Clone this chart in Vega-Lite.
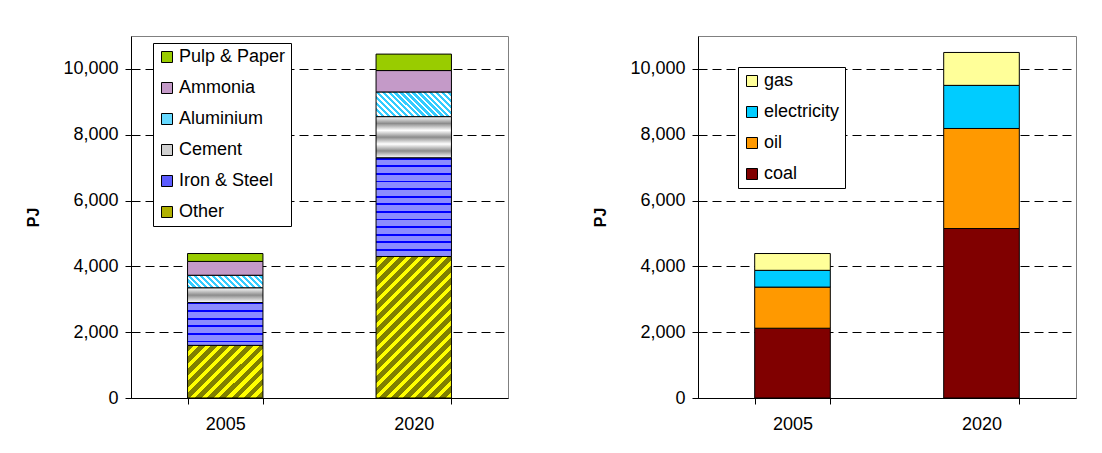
{
  "$schema": "https://vega.github.io/schema/vega-lite/v6.json",
  "padding": {"left": 25, "top": 35, "right": 0, "bottom": 0},
  "spacing": 83,
  "resolve": {"scale": {"fill": "independent"}, "legend": {"fill": "independent"}},
  "config": {
    "font": "Liberation Sans",
    "view": {"stroke": "#808080", "strokeWidth": 1},
    "axis": {
      "labelFont": "Liberation Sans",
      "labelFontSize": 18,
      "labelColor": "black",
      "titleFont": "Liberation Sans",
      "titleColor": "black",
      "domainColor": "black",
      "tickColor": "black"
    },
    "legend": {
      "orient": "none",
      "fillColor": "white",
      "strokeColor": "black",
      "strokeWidth": 1,
      "padding": 5,
      "rowPadding": 13,
      "symbolType": "square",
      "symbolSize": 121,
      "symbolStrokeColor": "black",
      "symbolStrokeWidth": 1,
      "labelFont": "Liberation Sans",
      "labelFontSize": 18,
      "labelColor": "black",
      "labelOffset": 3,
      "labelLimit": 300
    }
  },
  "datasets": {
    "sectors": [
      {"year": "2005", "sector": "Other", "PJ": 1600},
      {"year": "2005", "sector": "Iron & Steel", "PJ": 1300},
      {"year": "2005", "sector": "Cement", "PJ": 450},
      {"year": "2005", "sector": "Aluminium", "PJ": 380},
      {"year": "2005", "sector": "Ammonia", "PJ": 420},
      {"year": "2005", "sector": "Pulp & Paper", "PJ": 240},
      {"year": "2020", "sector": "Other", "PJ": 4300},
      {"year": "2020", "sector": "Iron & Steel", "PJ": 3000},
      {"year": "2020", "sector": "Cement", "PJ": 1250},
      {"year": "2020", "sector": "Aluminium", "PJ": 750},
      {"year": "2020", "sector": "Ammonia", "PJ": 650},
      {"year": "2020", "sector": "Pulp & Paper", "PJ": 500}
    ],
    "fuels": [
      {"year": "2005", "fuel": "coal", "PJ": 2120},
      {"year": "2005", "fuel": "oil", "PJ": 1250},
      {"year": "2005", "fuel": "electricity", "PJ": 510},
      {"year": "2005", "fuel": "gas", "PJ": 510},
      {"year": "2020", "fuel": "coal", "PJ": 5150},
      {"year": "2020", "fuel": "oil", "PJ": 3040},
      {"year": "2020", "fuel": "electricity", "PJ": 1310},
      {"year": "2020", "fuel": "gas", "PJ": 1000}
    ]
  },
  "hconcat": [
    {
      "width": 377,
      "height": 362,
      "data": {"name": "sectors"},
      "transform": [
        {"calculate": "indexof(['Other', 'Iron & Steel', 'Cement', 'Aluminium', 'Ammonia', 'Pulp & Paper'], datum.sector)", "as": "stackOrder"}
      ],
      "mark": {"type": "bar", "stroke": "black", "strokeWidth": 1},
      "encoding": {
        "x": {
          "field": "year", "type": "nominal",
          "scale": {"paddingInner": 0.6, "paddingOuter": 0.3},
          "axis": {"title": null, "labelAngle": 0, "tickBand": "extent", "tickSize": 6, "labelPadding": 11, "grid": false}
        },
        "y": {
          "field": "PJ", "type": "quantitative", "stack": "zero",
          "scale": {"domain": [0, 11000], "nice": false},
          "axis": {
            "title": "PJ", "titleFontSize": 16, "titleFontWeight": "bold", "titlePadding": 21,
            "values": [0, 2000, 4000, 6000, 8000, 10000], "format": ",.0f",
            "grid": true, "gridColor": "black", "gridDash": [9, 5], "gridWidth": 1,
            "tickSize": 6, "labelPadding": 7
          }
        },
        "order": {"field": "stackOrder", "type": "quantitative", "sort": "ascending"},
        "fill": {
          "field": "sector", "type": "nominal",
          "scale": {
            "domain": ["Other", "Iron & Steel", "Cement", "Aluminium", "Ammonia", "Pulp & Paper"],
            "range": ["#B0B000", "#5C5CFF", "#D0D0D0", "#66D9FF", "#C49AC8", "#99CC00"]
          },
          "legend": {
            "title": null, "legendX": 22, "legendY": 7,
            "values": ["Pulp & Paper", "Ammonia", "Aluminium", "Cement", "Iron & Steel", "Other"]
          },
          "condition": [
            {
              "test": "datum.sector === 'Other' && datum.year === '2005'",
              "value": {"gradient": "linear", "x1": 0, "y1": 0, "x2": 2.035, "y2": 1.422, "stops": [
                {"offset": 0, "color": "#808000"}, {"offset": 0.0289, "color": "#808000"}, {"offset": 0.0289, "color": "#FFFF00"}, {"offset": 0.0526, "color": "#FFFF00"},
                {"offset": 0.0526, "color": "#808000"}, {"offset": 0.0816, "color": "#808000"}, {"offset": 0.0816, "color": "#FFFF00"}, {"offset": 0.1053, "color": "#FFFF00"},
                {"offset": 0.1053, "color": "#808000"}, {"offset": 0.1342, "color": "#808000"}, {"offset": 0.1342, "color": "#FFFF00"}, {"offset": 0.1579, "color": "#FFFF00"},
                {"offset": 0.1579, "color": "#808000"}, {"offset": 0.1868, "color": "#808000"}, {"offset": 0.1868, "color": "#FFFF00"}, {"offset": 0.2105, "color": "#FFFF00"},
                {"offset": 0.2105, "color": "#808000"}, {"offset": 0.2395, "color": "#808000"}, {"offset": 0.2395, "color": "#FFFF00"}, {"offset": 0.2632, "color": "#FFFF00"},
                {"offset": 0.2632, "color": "#808000"}, {"offset": 0.2921, "color": "#808000"}, {"offset": 0.2921, "color": "#FFFF00"}, {"offset": 0.3158, "color": "#FFFF00"},
                {"offset": 0.3158, "color": "#808000"}, {"offset": 0.3447, "color": "#808000"}, {"offset": 0.3447, "color": "#FFFF00"}, {"offset": 0.3684, "color": "#FFFF00"},
                {"offset": 0.3684, "color": "#808000"}, {"offset": 0.3974, "color": "#808000"}, {"offset": 0.3974, "color": "#FFFF00"}, {"offset": 0.4211, "color": "#FFFF00"},
                {"offset": 0.4211, "color": "#808000"}, {"offset": 0.45, "color": "#808000"}, {"offset": 0.45, "color": "#FFFF00"}, {"offset": 0.4737, "color": "#FFFF00"},
                {"offset": 0.4737, "color": "#808000"}, {"offset": 0.5026, "color": "#808000"}, {"offset": 0.5026, "color": "#FFFF00"}, {"offset": 0.5263, "color": "#FFFF00"},
                {"offset": 0.5263, "color": "#808000"}, {"offset": 0.5553, "color": "#808000"}, {"offset": 0.5553, "color": "#FFFF00"}, {"offset": 0.5789, "color": "#FFFF00"},
                {"offset": 0.5789, "color": "#808000"}, {"offset": 0.6079, "color": "#808000"}, {"offset": 0.6079, "color": "#FFFF00"}, {"offset": 0.6316, "color": "#FFFF00"},
                {"offset": 0.6316, "color": "#808000"}, {"offset": 0.6605, "color": "#808000"}, {"offset": 0.6605, "color": "#FFFF00"}, {"offset": 0.6842, "color": "#FFFF00"},
                {"offset": 0.6842, "color": "#808000"}, {"offset": 0.7132, "color": "#808000"}, {"offset": 0.7132, "color": "#FFFF00"}, {"offset": 0.7368, "color": "#FFFF00"},
                {"offset": 0.7368, "color": "#808000"}, {"offset": 0.7658, "color": "#808000"}, {"offset": 0.7658, "color": "#FFFF00"}, {"offset": 0.7895, "color": "#FFFF00"},
                {"offset": 0.7895, "color": "#808000"}, {"offset": 0.8184, "color": "#808000"}, {"offset": 0.8184, "color": "#FFFF00"}, {"offset": 0.8421, "color": "#FFFF00"},
                {"offset": 0.8421, "color": "#808000"}, {"offset": 0.8711, "color": "#808000"}, {"offset": 0.8711, "color": "#FFFF00"}, {"offset": 0.8947, "color": "#FFFF00"},
                {"offset": 0.8947, "color": "#808000"}, {"offset": 0.9237, "color": "#808000"}, {"offset": 0.9237, "color": "#FFFF00"}, {"offset": 0.9474, "color": "#FFFF00"},
                {"offset": 0.9474, "color": "#808000"}, {"offset": 0.9763, "color": "#808000"}, {"offset": 0.9763, "color": "#FFFF00"}, {"offset": 1, "color": "#FFFF00"}
              ]}
            },
            {
              "test": "datum.sector === 'Other' && datum.year === '2020'",
              "value": {"gradient": "linear", "x1": 0, "y1": 0, "x2": 0.670, "y2": 1.257, "stops": [
                {"offset": 0, "color": "#808000"}, {"offset": 0.0289, "color": "#808000"}, {"offset": 0.0289, "color": "#FFFF00"}, {"offset": 0.0526, "color": "#FFFF00"},
                {"offset": 0.0526, "color": "#808000"}, {"offset": 0.0816, "color": "#808000"}, {"offset": 0.0816, "color": "#FFFF00"}, {"offset": 0.1053, "color": "#FFFF00"},
                {"offset": 0.1053, "color": "#808000"}, {"offset": 0.1342, "color": "#808000"}, {"offset": 0.1342, "color": "#FFFF00"}, {"offset": 0.1579, "color": "#FFFF00"},
                {"offset": 0.1579, "color": "#808000"}, {"offset": 0.1868, "color": "#808000"}, {"offset": 0.1868, "color": "#FFFF00"}, {"offset": 0.2105, "color": "#FFFF00"},
                {"offset": 0.2105, "color": "#808000"}, {"offset": 0.2395, "color": "#808000"}, {"offset": 0.2395, "color": "#FFFF00"}, {"offset": 0.2632, "color": "#FFFF00"},
                {"offset": 0.2632, "color": "#808000"}, {"offset": 0.2921, "color": "#808000"}, {"offset": 0.2921, "color": "#FFFF00"}, {"offset": 0.3158, "color": "#FFFF00"},
                {"offset": 0.3158, "color": "#808000"}, {"offset": 0.3447, "color": "#808000"}, {"offset": 0.3447, "color": "#FFFF00"}, {"offset": 0.3684, "color": "#FFFF00"},
                {"offset": 0.3684, "color": "#808000"}, {"offset": 0.3974, "color": "#808000"}, {"offset": 0.3974, "color": "#FFFF00"}, {"offset": 0.4211, "color": "#FFFF00"},
                {"offset": 0.4211, "color": "#808000"}, {"offset": 0.45, "color": "#808000"}, {"offset": 0.45, "color": "#FFFF00"}, {"offset": 0.4737, "color": "#FFFF00"},
                {"offset": 0.4737, "color": "#808000"}, {"offset": 0.5026, "color": "#808000"}, {"offset": 0.5026, "color": "#FFFF00"}, {"offset": 0.5263, "color": "#FFFF00"},
                {"offset": 0.5263, "color": "#808000"}, {"offset": 0.5553, "color": "#808000"}, {"offset": 0.5553, "color": "#FFFF00"}, {"offset": 0.5789, "color": "#FFFF00"},
                {"offset": 0.5789, "color": "#808000"}, {"offset": 0.6079, "color": "#808000"}, {"offset": 0.6079, "color": "#FFFF00"}, {"offset": 0.6316, "color": "#FFFF00"},
                {"offset": 0.6316, "color": "#808000"}, {"offset": 0.6605, "color": "#808000"}, {"offset": 0.6605, "color": "#FFFF00"}, {"offset": 0.6842, "color": "#FFFF00"},
                {"offset": 0.6842, "color": "#808000"}, {"offset": 0.7132, "color": "#808000"}, {"offset": 0.7132, "color": "#FFFF00"}, {"offset": 0.7368, "color": "#FFFF00"},
                {"offset": 0.7368, "color": "#808000"}, {"offset": 0.7658, "color": "#808000"}, {"offset": 0.7658, "color": "#FFFF00"}, {"offset": 0.7895, "color": "#FFFF00"},
                {"offset": 0.7895, "color": "#808000"}, {"offset": 0.8184, "color": "#808000"}, {"offset": 0.8184, "color": "#FFFF00"}, {"offset": 0.8421, "color": "#FFFF00"},
                {"offset": 0.8421, "color": "#808000"}, {"offset": 0.8711, "color": "#808000"}, {"offset": 0.8711, "color": "#FFFF00"}, {"offset": 0.8947, "color": "#FFFF00"},
                {"offset": 0.8947, "color": "#808000"}, {"offset": 0.9237, "color": "#808000"}, {"offset": 0.9237, "color": "#FFFF00"}, {"offset": 0.9474, "color": "#FFFF00"},
                {"offset": 0.9474, "color": "#808000"}, {"offset": 0.9763, "color": "#808000"}, {"offset": 0.9763, "color": "#FFFF00"}, {"offset": 1, "color": "#FFFF00"}
              ]}
            },
            {
              "test": "datum.sector === 'Aluminium' && datum.year === '2005'",
              "value": {"gradient": "linear", "x1": 0, "y1": 1, "x2": 1.457, "y2": 0.7585, "stops": [
                {"offset": 0, "color": "#33CCFF"}, {"offset": 0.0289, "color": "#33CCFF"}, {"offset": 0.0289, "color": "#FFFFFF"}, {"offset": 0.0526, "color": "#FFFFFF"},
                {"offset": 0.0526, "color": "#33CCFF"}, {"offset": 0.0816, "color": "#33CCFF"}, {"offset": 0.0816, "color": "#FFFFFF"}, {"offset": 0.1053, "color": "#FFFFFF"},
                {"offset": 0.1053, "color": "#33CCFF"}, {"offset": 0.1342, "color": "#33CCFF"}, {"offset": 0.1342, "color": "#FFFFFF"}, {"offset": 0.1579, "color": "#FFFFFF"},
                {"offset": 0.1579, "color": "#33CCFF"}, {"offset": 0.1868, "color": "#33CCFF"}, {"offset": 0.1868, "color": "#FFFFFF"}, {"offset": 0.2105, "color": "#FFFFFF"},
                {"offset": 0.2105, "color": "#33CCFF"}, {"offset": 0.2395, "color": "#33CCFF"}, {"offset": 0.2395, "color": "#FFFFFF"}, {"offset": 0.2632, "color": "#FFFFFF"},
                {"offset": 0.2632, "color": "#33CCFF"}, {"offset": 0.2921, "color": "#33CCFF"}, {"offset": 0.2921, "color": "#FFFFFF"}, {"offset": 0.3158, "color": "#FFFFFF"},
                {"offset": 0.3158, "color": "#33CCFF"}, {"offset": 0.3447, "color": "#33CCFF"}, {"offset": 0.3447, "color": "#FFFFFF"}, {"offset": 0.3684, "color": "#FFFFFF"},
                {"offset": 0.3684, "color": "#33CCFF"}, {"offset": 0.3974, "color": "#33CCFF"}, {"offset": 0.3974, "color": "#FFFFFF"}, {"offset": 0.4211, "color": "#FFFFFF"},
                {"offset": 0.4211, "color": "#33CCFF"}, {"offset": 0.45, "color": "#33CCFF"}, {"offset": 0.45, "color": "#FFFFFF"}, {"offset": 0.4737, "color": "#FFFFFF"},
                {"offset": 0.4737, "color": "#33CCFF"}, {"offset": 0.5026, "color": "#33CCFF"}, {"offset": 0.5026, "color": "#FFFFFF"}, {"offset": 0.5263, "color": "#FFFFFF"},
                {"offset": 0.5263, "color": "#33CCFF"}, {"offset": 0.5553, "color": "#33CCFF"}, {"offset": 0.5553, "color": "#FFFFFF"}, {"offset": 0.5789, "color": "#FFFFFF"},
                {"offset": 0.5789, "color": "#33CCFF"}, {"offset": 0.6079, "color": "#33CCFF"}, {"offset": 0.6079, "color": "#FFFFFF"}, {"offset": 0.6316, "color": "#FFFFFF"},
                {"offset": 0.6316, "color": "#33CCFF"}, {"offset": 0.6605, "color": "#33CCFF"}, {"offset": 0.6605, "color": "#FFFFFF"}, {"offset": 0.6842, "color": "#FFFFFF"},
                {"offset": 0.6842, "color": "#33CCFF"}, {"offset": 0.7132, "color": "#33CCFF"}, {"offset": 0.7132, "color": "#FFFFFF"}, {"offset": 0.7368, "color": "#FFFFFF"},
                {"offset": 0.7368, "color": "#33CCFF"}, {"offset": 0.7658, "color": "#33CCFF"}, {"offset": 0.7658, "color": "#FFFFFF"}, {"offset": 0.7895, "color": "#FFFFFF"},
                {"offset": 0.7895, "color": "#33CCFF"}, {"offset": 0.8184, "color": "#33CCFF"}, {"offset": 0.8184, "color": "#FFFFFF"}, {"offset": 0.8421, "color": "#FFFFFF"},
                {"offset": 0.8421, "color": "#33CCFF"}, {"offset": 0.8711, "color": "#33CCFF"}, {"offset": 0.8711, "color": "#FFFFFF"}, {"offset": 0.8947, "color": "#FFFFFF"},
                {"offset": 0.8947, "color": "#33CCFF"}, {"offset": 0.9237, "color": "#33CCFF"}, {"offset": 0.9237, "color": "#FFFFFF"}, {"offset": 0.9474, "color": "#FFFFFF"},
                {"offset": 0.9474, "color": "#33CCFF"}, {"offset": 0.9763, "color": "#33CCFF"}, {"offset": 0.9763, "color": "#FFFFFF"}, {"offset": 1, "color": "#FFFFFF"}
              ]}
            },
            {
              "test": "datum.sector === 'Aluminium' && datum.year === '2020'",
              "value": {"gradient": "linear", "x1": 0, "y1": 1, "x2": 1.352, "y2": 0.5572, "stops": [
                {"offset": 0, "color": "#33CCFF"}, {"offset": 0.0289, "color": "#33CCFF"}, {"offset": 0.0289, "color": "#FFFFFF"}, {"offset": 0.0526, "color": "#FFFFFF"},
                {"offset": 0.0526, "color": "#33CCFF"}, {"offset": 0.0816, "color": "#33CCFF"}, {"offset": 0.0816, "color": "#FFFFFF"}, {"offset": 0.1053, "color": "#FFFFFF"},
                {"offset": 0.1053, "color": "#33CCFF"}, {"offset": 0.1342, "color": "#33CCFF"}, {"offset": 0.1342, "color": "#FFFFFF"}, {"offset": 0.1579, "color": "#FFFFFF"},
                {"offset": 0.1579, "color": "#33CCFF"}, {"offset": 0.1868, "color": "#33CCFF"}, {"offset": 0.1868, "color": "#FFFFFF"}, {"offset": 0.2105, "color": "#FFFFFF"},
                {"offset": 0.2105, "color": "#33CCFF"}, {"offset": 0.2395, "color": "#33CCFF"}, {"offset": 0.2395, "color": "#FFFFFF"}, {"offset": 0.2632, "color": "#FFFFFF"},
                {"offset": 0.2632, "color": "#33CCFF"}, {"offset": 0.2921, "color": "#33CCFF"}, {"offset": 0.2921, "color": "#FFFFFF"}, {"offset": 0.3158, "color": "#FFFFFF"},
                {"offset": 0.3158, "color": "#33CCFF"}, {"offset": 0.3447, "color": "#33CCFF"}, {"offset": 0.3447, "color": "#FFFFFF"}, {"offset": 0.3684, "color": "#FFFFFF"},
                {"offset": 0.3684, "color": "#33CCFF"}, {"offset": 0.3974, "color": "#33CCFF"}, {"offset": 0.3974, "color": "#FFFFFF"}, {"offset": 0.4211, "color": "#FFFFFF"},
                {"offset": 0.4211, "color": "#33CCFF"}, {"offset": 0.45, "color": "#33CCFF"}, {"offset": 0.45, "color": "#FFFFFF"}, {"offset": 0.4737, "color": "#FFFFFF"},
                {"offset": 0.4737, "color": "#33CCFF"}, {"offset": 0.5026, "color": "#33CCFF"}, {"offset": 0.5026, "color": "#FFFFFF"}, {"offset": 0.5263, "color": "#FFFFFF"},
                {"offset": 0.5263, "color": "#33CCFF"}, {"offset": 0.5553, "color": "#33CCFF"}, {"offset": 0.5553, "color": "#FFFFFF"}, {"offset": 0.5789, "color": "#FFFFFF"},
                {"offset": 0.5789, "color": "#33CCFF"}, {"offset": 0.6079, "color": "#33CCFF"}, {"offset": 0.6079, "color": "#FFFFFF"}, {"offset": 0.6316, "color": "#FFFFFF"},
                {"offset": 0.6316, "color": "#33CCFF"}, {"offset": 0.6605, "color": "#33CCFF"}, {"offset": 0.6605, "color": "#FFFFFF"}, {"offset": 0.6842, "color": "#FFFFFF"},
                {"offset": 0.6842, "color": "#33CCFF"}, {"offset": 0.7132, "color": "#33CCFF"}, {"offset": 0.7132, "color": "#FFFFFF"}, {"offset": 0.7368, "color": "#FFFFFF"},
                {"offset": 0.7368, "color": "#33CCFF"}, {"offset": 0.7658, "color": "#33CCFF"}, {"offset": 0.7658, "color": "#FFFFFF"}, {"offset": 0.7895, "color": "#FFFFFF"},
                {"offset": 0.7895, "color": "#33CCFF"}, {"offset": 0.8184, "color": "#33CCFF"}, {"offset": 0.8184, "color": "#FFFFFF"}, {"offset": 0.8421, "color": "#FFFFFF"},
                {"offset": 0.8421, "color": "#33CCFF"}, {"offset": 0.8711, "color": "#33CCFF"}, {"offset": 0.8711, "color": "#FFFFFF"}, {"offset": 0.8947, "color": "#FFFFFF"},
                {"offset": 0.8947, "color": "#33CCFF"}, {"offset": 0.9237, "color": "#33CCFF"}, {"offset": 0.9237, "color": "#FFFFFF"}, {"offset": 0.9474, "color": "#FFFFFF"},
                {"offset": 0.9474, "color": "#33CCFF"}, {"offset": 0.9763, "color": "#33CCFF"}, {"offset": 0.9763, "color": "#FFFFFF"}, {"offset": 1, "color": "#FFFFFF"}
              ]}
            },
            {
              "test": "datum.sector === 'Iron & Steel' && datum.year === '2005'",
              "value": {"gradient": "linear", "x1": 0, "y1": 0, "x2": 0, "y2": 2.308, "stops": [
                {"offset": 0, "color": "#0000FF"}, {"offset": 0.0192, "color": "#0000FF"}, {"offset": 0.0192, "color": "#8C8CFF"}, {"offset": 0.0769, "color": "#8C8CFF"},
                {"offset": 0.0769, "color": "#0000FF"}, {"offset": 0.0962, "color": "#0000FF"}, {"offset": 0.0962, "color": "#8C8CFF"}, {"offset": 0.1538, "color": "#8C8CFF"},
                {"offset": 0.1538, "color": "#0000FF"}, {"offset": 0.1731, "color": "#0000FF"}, {"offset": 0.1731, "color": "#8C8CFF"}, {"offset": 0.2308, "color": "#8C8CFF"},
                {"offset": 0.2308, "color": "#0000FF"}, {"offset": 0.25, "color": "#0000FF"}, {"offset": 0.25, "color": "#8C8CFF"}, {"offset": 0.3077, "color": "#8C8CFF"},
                {"offset": 0.3077, "color": "#0000FF"}, {"offset": 0.3269, "color": "#0000FF"}, {"offset": 0.3269, "color": "#8C8CFF"}, {"offset": 0.3846, "color": "#8C8CFF"},
                {"offset": 0.3846, "color": "#0000FF"}, {"offset": 0.4038, "color": "#0000FF"}, {"offset": 0.4038, "color": "#8C8CFF"}, {"offset": 0.4615, "color": "#8C8CFF"},
                {"offset": 0.4615, "color": "#0000FF"}, {"offset": 0.4808, "color": "#0000FF"}, {"offset": 0.4808, "color": "#8C8CFF"}, {"offset": 0.5385, "color": "#8C8CFF"},
                {"offset": 0.5385, "color": "#0000FF"}, {"offset": 0.5577, "color": "#0000FF"}, {"offset": 0.5577, "color": "#8C8CFF"}, {"offset": 0.6154, "color": "#8C8CFF"},
                {"offset": 0.6154, "color": "#0000FF"}, {"offset": 0.6346, "color": "#0000FF"}, {"offset": 0.6346, "color": "#8C8CFF"}, {"offset": 0.6923, "color": "#8C8CFF"},
                {"offset": 0.6923, "color": "#0000FF"}, {"offset": 0.7115, "color": "#0000FF"}, {"offset": 0.7115, "color": "#8C8CFF"}, {"offset": 0.7692, "color": "#8C8CFF"},
                {"offset": 0.7692, "color": "#0000FF"}, {"offset": 0.7885, "color": "#0000FF"}, {"offset": 0.7885, "color": "#8C8CFF"}, {"offset": 0.8462, "color": "#8C8CFF"},
                {"offset": 0.8462, "color": "#0000FF"}, {"offset": 0.8654, "color": "#0000FF"}, {"offset": 0.8654, "color": "#8C8CFF"}, {"offset": 0.9231, "color": "#8C8CFF"},
                {"offset": 0.9231, "color": "#0000FF"}, {"offset": 0.9423, "color": "#0000FF"}, {"offset": 0.9423, "color": "#8C8CFF"}, {"offset": 1, "color": "#8C8CFF"}
              ]}
            },
            {
              "test": "datum.sector === 'Iron & Steel' && datum.year === '2020'",
              "value": {"gradient": "linear", "x1": 0, "y1": 0, "x2": 0, "y2": 1, "stops": [
                {"offset": 0, "color": "#0000FF"}, {"offset": 0.0192, "color": "#0000FF"}, {"offset": 0.0192, "color": "#8C8CFF"}, {"offset": 0.0769, "color": "#8C8CFF"},
                {"offset": 0.0769, "color": "#0000FF"}, {"offset": 0.0962, "color": "#0000FF"}, {"offset": 0.0962, "color": "#8C8CFF"}, {"offset": 0.1538, "color": "#8C8CFF"},
                {"offset": 0.1538, "color": "#0000FF"}, {"offset": 0.1731, "color": "#0000FF"}, {"offset": 0.1731, "color": "#8C8CFF"}, {"offset": 0.2308, "color": "#8C8CFF"},
                {"offset": 0.2308, "color": "#0000FF"}, {"offset": 0.25, "color": "#0000FF"}, {"offset": 0.25, "color": "#8C8CFF"}, {"offset": 0.3077, "color": "#8C8CFF"},
                {"offset": 0.3077, "color": "#0000FF"}, {"offset": 0.3269, "color": "#0000FF"}, {"offset": 0.3269, "color": "#8C8CFF"}, {"offset": 0.3846, "color": "#8C8CFF"},
                {"offset": 0.3846, "color": "#0000FF"}, {"offset": 0.4038, "color": "#0000FF"}, {"offset": 0.4038, "color": "#8C8CFF"}, {"offset": 0.4615, "color": "#8C8CFF"},
                {"offset": 0.4615, "color": "#0000FF"}, {"offset": 0.4808, "color": "#0000FF"}, {"offset": 0.4808, "color": "#8C8CFF"}, {"offset": 0.5385, "color": "#8C8CFF"},
                {"offset": 0.5385, "color": "#0000FF"}, {"offset": 0.5577, "color": "#0000FF"}, {"offset": 0.5577, "color": "#8C8CFF"}, {"offset": 0.6154, "color": "#8C8CFF"},
                {"offset": 0.6154, "color": "#0000FF"}, {"offset": 0.6346, "color": "#0000FF"}, {"offset": 0.6346, "color": "#8C8CFF"}, {"offset": 0.6923, "color": "#8C8CFF"},
                {"offset": 0.6923, "color": "#0000FF"}, {"offset": 0.7115, "color": "#0000FF"}, {"offset": 0.7115, "color": "#8C8CFF"}, {"offset": 0.7692, "color": "#8C8CFF"},
                {"offset": 0.7692, "color": "#0000FF"}, {"offset": 0.7885, "color": "#0000FF"}, {"offset": 0.7885, "color": "#8C8CFF"}, {"offset": 0.8462, "color": "#8C8CFF"},
                {"offset": 0.8462, "color": "#0000FF"}, {"offset": 0.8654, "color": "#0000FF"}, {"offset": 0.8654, "color": "#8C8CFF"}, {"offset": 0.9231, "color": "#8C8CFF"},
                {"offset": 0.9231, "color": "#0000FF"}, {"offset": 0.9423, "color": "#0000FF"}, {"offset": 0.9423, "color": "#8C8CFF"}, {"offset": 1, "color": "#8C8CFF"}
              ]}
            },
            {
              "test": "datum.sector === 'Cement' && datum.year === '2005'",
              "value": {"gradient": "linear", "x1": 0, "y1": 0, "x2": 0, "y2": 3, "stops": [
                {"offset": 0, "color": "#FFFFFF"}, {"offset": 0.1667, "color": "#8C8C8C"}, {"offset": 0.3333, "color": "#FFFFFF"},
                {"offset": 0.5, "color": "#8C8C8C"}, {"offset": 0.6667, "color": "#FFFFFF"}, {"offset": 0.8333, "color": "#8C8C8C"}, {"offset": 1, "color": "#FFFFFF"}
              ]}
            },
            {
              "test": "datum.sector === 'Cement' && datum.year === '2020'",
              "value": {"gradient": "linear", "x1": 0, "y1": 0, "x2": 0, "y2": 1, "stops": [
                {"offset": 0, "color": "#FFFFFF"}, {"offset": 0.1667, "color": "#8C8C8C"}, {"offset": 0.3333, "color": "#FFFFFF"},
                {"offset": 0.5, "color": "#8C8C8C"}, {"offset": 0.6667, "color": "#FFFFFF"}, {"offset": 0.8333, "color": "#8C8C8C"}, {"offset": 1, "color": "#FFFFFF"}
              ]}
            }
          ]
        }
      }
    },
    {
      "width": 378,
      "height": 362,
      "data": {"name": "fuels"},
      "transform": [
        {"calculate": "indexof(['coal', 'oil', 'electricity', 'gas'], datum.fuel)", "as": "stackOrder"}
      ],
      "mark": {"type": "bar", "stroke": "black", "strokeWidth": 1},
      "encoding": {
        "x": {
          "field": "year", "type": "nominal",
          "scale": {"paddingInner": 0.6, "paddingOuter": 0.3},
          "axis": {"title": null, "labelAngle": 0, "tickBand": "extent", "tickSize": 6, "labelPadding": 11, "grid": false}
        },
        "y": {
          "field": "PJ", "type": "quantitative", "stack": "zero",
          "scale": {"domain": [0, 11000], "nice": false},
          "axis": {
            "title": "PJ", "titleFontSize": 16, "titleFontWeight": "bold", "titlePadding": 21,
            "values": [0, 2000, 4000, 6000, 8000, 10000], "format": ",.0f",
            "grid": true, "gridColor": "black", "gridDash": [9, 5], "gridWidth": 1,
            "tickSize": 6, "labelPadding": 7
          }
        },
        "order": {"field": "stackOrder", "type": "quantitative", "sort": "ascending"},
        "fill": {
          "field": "fuel", "type": "nominal",
          "scale": {
            "domain": ["coal", "oil", "electricity", "gas"],
            "range": ["#800000", "#FF9900", "#00CCFF", "#FFFF99"]
          },
          "legend": {
            "title": null, "legendX": 40, "legendY": 31,
            "values": ["gas", "electricity", "oil", "coal"]
          }
        }
      }
    }
  ]
}
